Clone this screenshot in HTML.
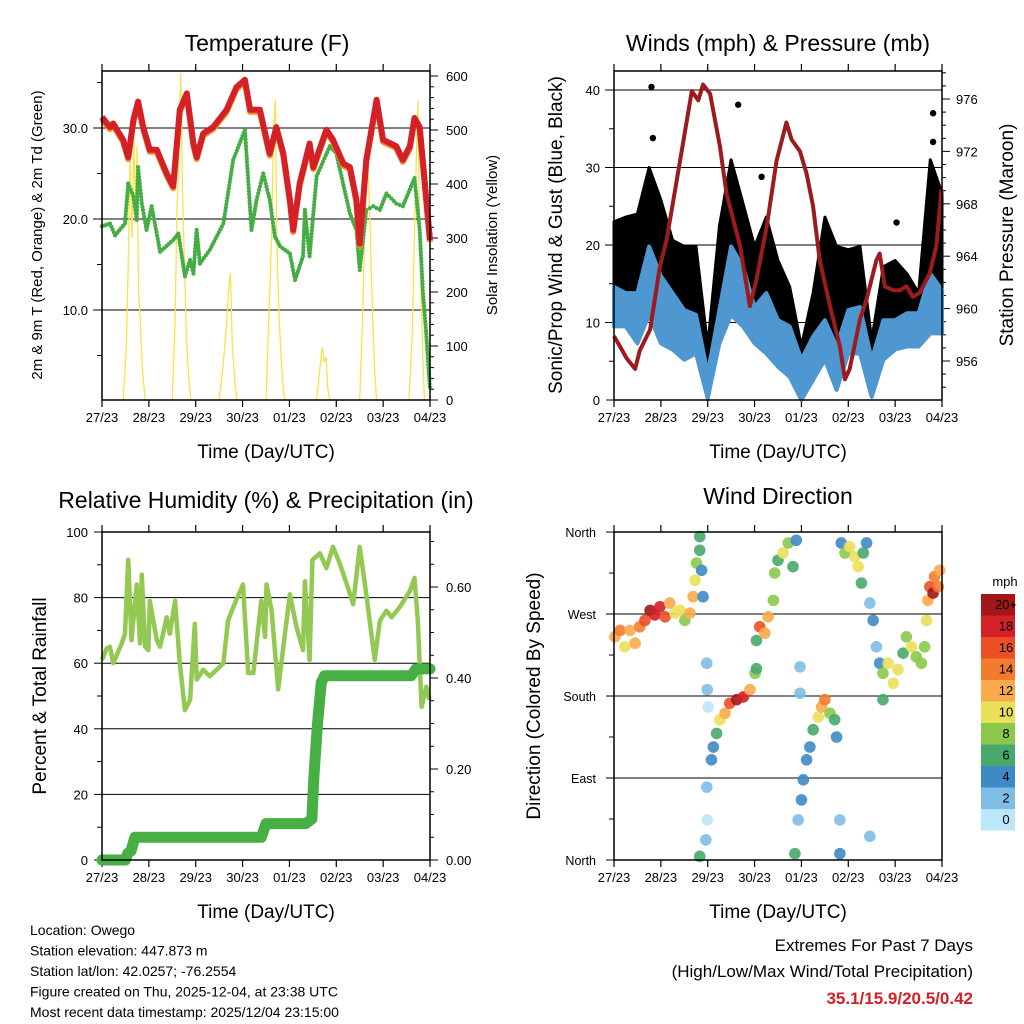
<!DOCTYPE html>
<html><head><meta charset="utf-8"><style>
body{margin:0;background:#fff}
svg{display:block;font-family:"Liberation Sans",sans-serif}
</style></head><body>
<svg id="c" width="1024" height="1024" viewBox="0 0 1024 1024"></svg>
<script>
// ---------- DATA ----------
const tempDays=[0,0.17,0.24,0.45,0.56,0.67,0.77,0.88,1.02,1.17,1.38,1.52,1.66,1.81,1.95,2.02,2.16,2.37,2.66,2.87,3.05,3.16,3.37,3.58,3.72,3.87,4.01,4.08,4.22,4.43,4.51,4.79,4.93,5.15,5.29,5.43,5.5,5.64,5.86,6.0,6.28,6.42,6.57,6.67,6.78,7.0];
const tempVals=[31.2,30.1,30.5,28.7,26.8,30.9,32.9,30.1,27.6,27.6,25.0,23.6,32.0,33.8,28.3,26.8,29.4,30.1,32.0,34.5,35.3,32.0,32.0,27.2,30.1,27.2,22.1,18.8,23.9,28.3,25.7,29.8,28.7,26.1,25.7,22.1,17.3,26.5,33.1,28.7,28.0,26.5,28.0,31.1,30.1,17.7];
const dewDays=[0,0.17,0.28,0.49,0.56,0.67,0.74,0.77,0.85,0.95,1.06,1.24,1.52,1.63,1.77,1.88,1.95,2.02,2.09,2.3,2.59,2.8,3.05,3.19,3.3,3.44,3.58,3.69,3.8,4.01,4.12,4.29,4.33,4.43,4.58,4.86,5.0,5.29,5.43,5.5,5.64,5.79,5.93,6.07,6.28,6.42,6.67,6.78,6.85,6.92,7.0];
const dewVals=[19.2,19.5,18.2,19.5,23.9,22.5,19.9,25.7,21.7,18.8,21.4,16.4,17.7,18.4,13.7,15.5,14.0,18.8,15.1,16.6,19.5,26.5,29.8,18.8,22.1,25.0,22.1,18.1,17.0,16.2,13.3,15.9,21.0,15.9,24.7,28.0,27.2,20.6,18.8,14.4,21.0,21.4,21.0,22.8,21.7,21.4,24.5,18.8,11.8,7.4,1.2];
const solarDays=[0,0.45,0.52,0.56,0.6,0.64,0.68,0.72,0.75,0.78,0.82,0.86,0.92,1.5,1.56,1.6,1.64,1.68,1.72,1.76,1.8,1.85,1.9,2.5,2.58,2.65,2.7,2.74,2.78,2.84,2.88,3.5,3.56,3.62,3.66,3.7,3.73,3.78,3.85,3.9,4.58,4.64,4.7,4.74,4.78,4.82,4.86,5.5,5.56,5.62,5.66,5.7,5.76,5.82,5.86,6.55,6.62,6.68,6.74,6.78,6.84,6.88,7.0];
const solarVals=[0,0,100,250,450,300,480,350,470,200,140,60,0,0,150,350,450,605,380,250,120,40,0,0,60,130,200,235,100,30,0,0,150,300,500,555,300,150,40,0,0,50,98,70,80,20,0,0,150,350,457,380,200,50,0,0,120,350,555,300,100,0,0];
const windDays=[0,0.25,0.5,0.75,1,1.25,1.5,1.75,2,2.25,2.5,2.75,3,3.25,3.5,3.75,4,4.25,4.5,4.75,5,5.25,5.5,5.75,6,6.25,6.5,6.75,7];
const windLo=[9.5,9.5,7.3,11,7.3,6.5,5.2,6,0.2,7.3,11,9.5,7.3,6,4.3,3,0,2.6,5.2,1.3,6,6,0.4,5.2,6.5,6.9,6.9,8.6,8.6];
const windHi=[14.6,13.8,13.8,19.8,16,13.8,11.6,11,3.4,11.6,19.8,17.2,12,13.8,10.3,9.5,5.2,8.2,10.3,6.9,11.6,12,5.2,10.3,10.3,11.2,11.2,16.3,14.2];
const gustHi=[23,23.6,24,30,25.8,20.6,19.8,19.8,6.9,22.4,31,25.4,19.8,23.6,18,14.6,6.9,13.8,23.6,19.8,19.4,19.8,7.7,17.2,18,16.3,13.8,31,26.7];
const gustOutDays=[0.8,0.83,2.65,3.15,6.03,6.81,6.81];
const gustOutVals=[40.4,33.8,38.1,28.8,22.9,37,33.3];
const presDays=[0,0.13,0.27,0.45,0.55,0.77,0.98,1.12,1.41,1.66,1.8,1.9,2.05,2.26,2.4,2.69,2.9,3.04,3.26,3.47,3.68,3.79,3.97,4.11,4.25,4.39,4.61,4.82,4.93,5.03,5.25,5.39,5.6,5.67,5.78,5.96,6.1,6.24,6.38,6.52,6.74,6.88,6.99];
const presVals=[957.9,957.1,956.2,955.4,956.8,958.4,963.2,965.2,971.3,976.6,975.9,977.1,976.4,972.4,968.8,964.8,960.2,962.2,966.3,971.3,974.2,972.9,972.0,970.3,967.8,963.7,960.2,957.1,954.6,955.4,959.2,960.7,963.7,964.2,961.7,961.4,961.4,961.7,960.9,961.2,962.7,964.8,969.1];
const rhDays=[0,0.1,0.17,0.24,0.42,0.49,0.56,0.63,0.74,0.81,0.85,0.92,0.99,1.02,1.17,1.24,1.38,1.45,1.56,1.66,1.77,1.88,1.98,2.02,2.16,2.3,2.59,2.69,2.8,3.01,3.12,3.23,3.4,3.48,3.51,3.62,3.76,3.87,4.01,4.15,4.29,4.33,4.43,4.49,4.65,4.79,4.93,5.07,5.25,5.36,5.5,5.64,5.82,5.93,6.07,6.18,6.35,6.57,6.67,6.74,6.82,6.92,6.99];
const rhVals=[61,64.5,65,60,66,69,91.5,67,84,66,87,65,64,79,67,65,74,69,79,60,45.7,48.8,72,55,58,56,60,73,77,84,57,57,79,68,84,76,52,65,81,71,64,85,61,91.5,93.5,89,95.5,90.5,83,78,95.5,81,61,73,76,74,77,82,86,73,46.7,52.8,48.8];
const precipDays=[0,0.5,0.55,0.62,0.7,0.78,3.4,3.5,4.35,4.48,4.52,4.6,4.68,4.75,6.6,6.7,7.0];
const precipVals=[0,0,0.015,0.02,0.05,0.05,0.05,0.08,0.08,0.09,0.18,0.3,0.39,0.405,0.405,0.42,0.42];
const dirDays=[0.02,0.13,0.23,0.34,0.45,0.55,0.66,0.77,0.87,0.98,1.09,1.19,1.3,1.41,1.51,1.62,1.69,1.73,1.76,1.83,1.83,1.9,1.87,1.98,1.99,2.01,1.98,1.99,1.96,1.83,2.08,2.12,2.19,2.26,2.37,2.47,2.62,2.76,2.9,3.01,3.04,3.04,3.11,3.22,3.29,3.4,3.43,3.5,3.61,3.72,3.82,3.89,3.86,3.93,4.0,4.04,4.11,4.18,4.25,4.36,4.43,4.5,4.61,4.71,4.75,3.97,3.97,4.85,4.93,5.03,5.14,5.21,5.32,5.39,5.28,4.82,4.82,5.46,5.46,5.53,5.6,5.67,5.74,5.74,5.85,5.96,6.06,6.17,6.24,6.35,6.45,6.56,6.63,6.67,6.7,6.74,6.81,6.84,6.92,6.95];
const dirVals=[245,252,234,252,238,256,263,274,269,278,267,282,271,274,263,271,289,307,326,340,355,289,318,216,187,168,80,44,22,4,110,124,139,154,161,172,176,179,187,205,210,241,256,249,267,285,315,329,337,348,322,351,7,44,66,88,110,124,143,157,168,176,161,154,135,212,183,348,337,344,333,322,337,348,304,44,7,26,282,263,234,216,205,176,216,194,209,227,245,234,223,216,234,263,285,300,293,311,300,318];
const dirSpeeds=[12,13,10,12,12,14,16,19,18,17,15,12,10,9,7,11,12,9,7,6,5,3,4,1,1,0,1,0,1,6,4,4,6,9,12,16,19,18,12,7,6,6,16,12,12,8,7,6,10,8,6,4,6,2,3,4,3,4,6,9,11,14,8,6,4,1,1,4,8,9,10,9,6,3,6,2,3,2,1,3,2,4,7,6,10,9,10,6,7,10,7,7,8,10,12,15,19,13,14,11];
const tempLabels=["10.0","20.0","30.0"], solarLabels=["0","100","200","300","400","500","600"];
const dayLabels=["27/23","28/23","29/23","30/23","01/23","02/23","03/23","04/23"];
const presLabels=[956,960,964,968,972,976];
const speedLabels=["20+","18","16","14","12","10","8","6","4","2","0"];
const speedColors=["#a3171b","#d42027","#ea4f25","#f47b2e","#f9aa4a","#ebe05a","#8bc94d","#48a96a","#3f8ac5","#7fbde6","#bce6f9"];

// ---------- HELPERS ----------
const NS="http://www.w3.org/2000/svg", svg=document.getElementById('c');
function el(tag,attrs,parent,txt){const e=document.createElementNS(NS,tag);for(const k in attrs)e.setAttribute(k,attrs[k]);if(txt!==undefined)e.textContent=txt;(parent||svg).appendChild(e);return e;}
function grp(name){const g=el('g',{});return g;}
function txt(g,x,y,s,size,anchor,name,extra){const t=el('text',Object.assign({x:x,y:y,'font-size':size,'text-anchor':anchor||'middle',fill:'#000'},extra||{}),g,s);return t;}
function path(pts){return pts.map((p,i)=>(i?'L':'M')+p[0].toFixed(1)+' '+p[1].toFixed(1)).join('');}

function panel(name,x0,y0,x1,y1){
  const g=grp(name);
  const xs=d=>x0+d*(x1-x0)/7;
  const xa=grp('x-axis');g.appendChild(xa);
  for(let i=0;i<=7;i++){const x=xs(i);
    el('line',{x1:x,y1:y1,x2:x,y2:y1+7,stroke:'#000','stroke-width':1.2},xa);
    el('line',{x1:x,y1:y0,x2:x,y2:y0-7,stroke:'#000','stroke-width':1.2},xa);
    txt(xa,x,y1+22,dayLabels[i],13,'middle','x-tick-label');}
  txt(xa,(x0+x1)/2,y1+58,'Time (Day/UTC)',19,'middle','x-axis-title');
  return {g,xs};
}
function frame(g,x0,y0,x1,y1){const r=el('rect',{x:x0,y:y0,width:x1-x0,height:y1-y0,fill:'none',stroke:'#000','stroke-width':1.5},g);}
function hgrid(g,x0,x1,y){el('line',{x1:x0,y1:y,x2:x1,y2:y,stroke:'#000','stroke-width':1},g);}
function lticks(g,x,ys,len){ys.forEach(y=>el('line',{x1:x,y1:y,x2:x-len,y2:y,stroke:'#000','stroke-width':1},g));}
function rticks(g,x,ys,len){ys.forEach(y=>el('line',{x1:x,y1:y,x2:x+len,y2:y,stroke:'#000','stroke-width':1},g));}
function vlabel(g,x,y,s,size,name){txt(g,x,y,s,size,'middle',name,{transform:`rotate(-90 ${x} ${y})`});}

// ---------- PANEL 1: TEMPERATURE ----------
(function(){
  const x0=102,y0=71,x1=430,y1=400;const {g,xs}=panel('temperature-panel',x0,y0,x1,y1);
  const ty=v=>310-(v-10)*9.1, sy=v=>400-v*0.54;
  txt(g,267,51,'Temperature (F)',23,'middle','chart-title');
  [10,20,30].forEach((v,i)=>{hgrid(g,x0-9,x1,ty(v));txt(g,x0-14,ty(v)+5,tempLabels[i],13,'end','y-tick-label');});
  lticks(g,x0,[5,15,25,35].map(ty),5);
  solarLabels.forEach((s,i)=>{rticks(g,x1,[sy(i*100)],8);txt(g,x1+16,sy(i*100)+5,s,13,'start','y2-tick-label');});
  const mn=[];for(let v=20;v<=600;v+=20)if(v%100)mn.push(sy(v));rticks(g,x1,mn,4);
  vlabel(g,42,235,'2m & 9m T (Red, Orange) & 2m Td (Green)',15,'y-axis-title');
  vlabel(g,497,235,'Solar Insolation (Yellow)',15,'y2-axis-title');
  const s=el('path',{d:path(solarDays.map((d,i)=>[xs(d),sy(solarVals[i])])),fill:'none',stroke:'#f9e24c','stroke-width':1.3},g);
  
  dewDays.forEach((d,i)=>{if(i==0)return;const a=[xs(dewDays[i-1]),ty(dewVals[i-1])],b=[xs(d),ty(dewVals[i])];
    const n=Math.max(2,Math.round(Math.hypot(b[0]-a[0],b[1]-a[1])/3.2));
    for(let k=0;k<n;k++){const f=k/n;const c=el('circle',{cx:a[0]+(b[0]-a[0])*f,cy:a[1]+(b[1]-a[1])*f,r:2.1,fill:'#45ad45'},g);
    }});
  const o=el('path',{d:path(tempDays.map((d,i)=>[xs(d),ty(tempVals[i])+2])),fill:'none',stroke:'#f68a2e','stroke-width':6,'stroke-linejoin':'round'},g);
  
  const r=el('path',{d:path(tempDays.map((d,i)=>[xs(d),ty(tempVals[i])])),fill:'none',stroke:'#d42027','stroke-width':6,'stroke-linejoin':'round'},g);
  
  frame(g,x0,y0,x1,y1);
})();

// ---------- PANEL 2: WINDS ----------
(function(){
  const x0=614,y0=71,x1=942,y1=400;const {g,xs}=panel('winds-panel',x0,y0,x1,y1);
  const wy=v=>400-v*7.75, py=p=>361-(p-956)*13.1;
  txt(g,778,51,'Winds (mph) & Pressure (mb)',23,'middle','chart-title');
  [0,10,20,30,40].forEach(v=>{if(v)hgrid(g,x0-9,x1,wy(v));else lticks(g,x0,[wy(0)],8);txt(g,x0-14,wy(v)+5,String(v),13,'end','y-tick-label');});
  lticks(g,x0,[5,15,25,35].map(wy),5);
  presLabels.forEach(p=>{rticks(g,x1,[py(p)],8);txt(g,x1+14,py(p)+5,String(p),13,'start','y2-tick-label');});
  const mn=[];for(let p=954;p<=978;p++)if(p%4)mn.push(py(p));rticks(g,x1,mn,4);
  vlabel(g,562,235,'Sonic/Prop Wind & Gust (Blue, Black)',19,'y-axis-title');
  vlabel(g,1013,235,'Station Pressure (Maroon)',19,'y2-axis-title');
  const top=windDays.map((d,i)=>[xs(d),wy(gustHi[i])]), mid=windDays.map((d,i)=>[xs(d),wy(windHi[i])]).reverse();
  const gb=el('path',{d:path(top.concat(mid))+'Z',fill:'#000',stroke:'#000','stroke-width':3,'stroke-linejoin':'round'},g);
  
  const hi=windDays.map((d,i)=>[xs(d),wy(windHi[i])]), lo=windDays.map((d,i)=>[xs(d),wy(windLo[i])]).reverse();
  const wb=el('path',{d:path(hi.concat(lo))+'Z',fill:'#4e97d1',stroke:'#4e97d1','stroke-width':4,'stroke-linejoin':'round'},g);
  
  gustOutDays.forEach((d,i)=>{const c=el('circle',{cx:xs(d),cy:wy(gustOutVals[i]),r:3.2,fill:'#000'},g);});
  const p=el('path',{d:path(presDays.map((d,i)=>[xs(d),py(presVals[i])])),fill:'none',stroke:'#9b1b1e','stroke-width':4,'stroke-linejoin':'round'},g);
  
  frame(g,x0,y0,x1,y1);
})();

// ---------- PANEL 3: RH & PRECIP ----------
(function(){
  const x0=102,y0=532,x1=430,y1=860;const {g,xs}=panel('humidity-panel',x0,y0,x1,y1);
  const hy=v=>860-v*3.28, qy=v=>860-v*455;
  txt(g,266,508,'Relative Humidity (%) & Precipitation (in)',23,'middle','chart-title');
  [0,20,40,60,80,100].forEach(v=>{if(v&&v<100)hgrid(g,x0,x1,hy(v));lticks(g,x0,[hy(v)],8);txt(g,x0-14,hy(v)+5,String(v),13,'end','y-tick-label');});
  lticks(g,x0,[10,30,50,70,90].map(hy),5);
  ["0.00","0.20","0.40","0.60"].forEach((s,i)=>{rticks(g,x1,[qy(i*0.2)],8);txt(g,x1+16,qy(i*0.2)+5,s,13,'start','y2-tick-label');});
  rticks(g,x1,[0.05,0.1,0.15,0.25,0.3,0.35,0.45,0.5,0.55,0.65,0.7].map(qy),4);
  vlabel(g,46,696,'Percent & Total Rainfall',19,'y-axis-title');
  const h=el('path',{d:path(rhDays.map((d,i)=>[xs(d),hy(rhVals[i])])),fill:'none',stroke:'#93c952','stroke-width':4.5,'stroke-linejoin':'round'},g);
  
  const q=el('path',{d:path(precipDays.map((d,i)=>[xs(d),qy(precipVals[i])])),fill:'none',stroke:'#46b045','stroke-width':11,'stroke-linejoin':'round','stroke-linecap':'round'},g);
  
  frame(g,x0,y0,x1,y1);
})();

// ---------- PANEL 4: WIND DIRECTION ----------
(function(){
  const x0=614,y0=532,x1=942,y1=860;const {g,xs}=panel('wind-direction-panel',x0,y0,x1,y1);
  const dy=v=>860-v*0.911;
  txt(g,778,504,'Wind Direction',23,'middle','chart-title');
  ["North","East","South","West","North"].forEach((s,i)=>{const y=dy(i*90);if(i>0&&i<4)hgrid(g,x0-8,x1,y);lticks(g,x0,[y],8);txt(g,x0-18,y+5,s,12.5,'end','y-tick-label');});
  lticks(g,x0,[45,135,225,315].map(dy),5);
  vlabel(g,540,696,'Direction (Colored By Speed)',19,'y-axis-title');
  const col=s=>speedColors[10-Math.max(0,Math.min(10,Math.round(s/2)))];
  dirDays.forEach((d,i)=>{const c=el('circle',{cx:xs(d),cy:dy(dirVals[i]),r:5.8,fill:col(dirSpeeds[i]),'fill-opacity':0.9},g);
    });
  frame(g,x0,y0,x1,y1);
  const lg=grp('speed-colorbar');svg.appendChild(lg);
  txt(lg,1005,586,'mph',13,'middle','colorbar-title');
  speedLabels.forEach((s,i)=>{const y=594+i*21.5;
    const r=el('rect',{x:981,y:y,width:34,height:21.5,fill:speedColors[i]},lg);
    txt(lg,1006,y+15,s,13,'middle','colorbar-label');});
})();

// ---------- FOOTER ----------
(function(){
  const g=grp('station-info');svg.appendChild(g);
  ["Location: Owego","Station elevation: 447.873 m","Station lat/lon: 42.0257; -76.2554","Figure created on Thu, 2025-12-04, at 23:38 UTC","Most recent data timestamp: 2025/12/04 23:15:00"]
   .forEach((s,i)=>txt(g,30,935+i*20.5,s,14,'start','info-line'));
  const e=grp('extremes');svg.appendChild(e);
  txt(e,973,951,'Extremes For Past 7 Days',17,'end','extremes-title');
  txt(e,973,977,'(High/Low/Max Wind/Total Precipitation)',17,'end','extremes-subtitle');
  txt(e,973,1004,'35.1/15.9/20.5/0.42',17,'end','extremes-values',{fill:'#d42027','font-weight':'bold'});
})();
</script>
</body></html>
